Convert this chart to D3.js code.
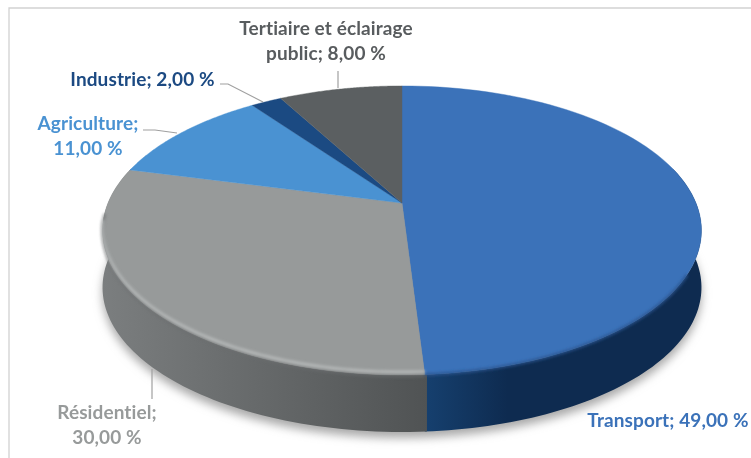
<!DOCTYPE html>
<html><head><meta charset="utf-8">
<script src="https://cdn.jsdelivr.net/npm/d3@7/dist/d3.min.js"></script>
<style>html,body{margin:0;padding:0;background:#fff;overflow:hidden}svg{display:block}text{font-family:Lato,"Open Sans",sans-serif;font-weight:700;font-size:19px;letter-spacing:.1px}</style>
</head><body><svg id="c" width="751" height="458"></svg>
<script>
const categories=["Transport","Résidentiel","Agriculture","Industrie","Tertiaire et éclairage public"];
const values=[49,30,11,2,8];
const topColors=["#3b72b9","#979a9a","#4a92d2","#1b4a82","#5b5f61"];
const wallNear=["#16406f","#505354","#2f6da8","#123660","#3f4244"];
const wallFar=["#0e2b50","#7b7e7f","#2f6da8","#123660","#3f4244"];
const textColors=["#3b72b9","#979a9a","#4a92d2","#1b4a82","#595c5e"];
const labelLines=[["Transport; 49,00 %"],["Résidentiel;","30,00 %"],["Agriculture;","11,00 %"],["Industrie; 2,00 %"],["Tertiaire et éclairage","public; 8,00 %"]];
const labelPos=[[668,427],[107,419],[88,130],[142.5,86],[326,35]];
const leaders=[[],[[152,369],[152,399]],[[143,130],[155,130],[177,133]],[[220,84],[228,84],[263,102]],[[338,71],[338,88]]];

const cx=402,cy=203,B=294,A=139.3,C=-0.19,depth=57;
const svg=d3.select("#c");
const defs=svg.append("defs");
const blur=(id,s)=>defs.append("filter").attr("id",id).attr("x","-20%").attr("y","-20%").attr("width","140%").attr("height","140%").append("feGaussianBlur").attr("stdDeviation",s);
blur("shadow",5);blur("rim",1.5);blur("soft",0.4);

const project=(a,dy=0)=>{const u=Math.sin(a),v=-Math.cos(a),d=1+C*v;return [cx+B*u/d,cy+A*v/d+dy];};
const arcs=d3.pie().sort(null).value(d=>d)(values);
const line=d3.line();
const outline=(a0,a1,dy=0)=>d3.range(0,81).map(i=>project(a0+(a1-a0)*i/80,dy));
const deg=d=>d*Math.PI/180;

// frame: only top and left edges are visible
svg.append("path").attr("d",line([[9,458],[9,8],[751,8]])).attr("fill","none").attr("stroke","#d2d2d2").attr("stroke-width",1.3);

// soft drop shadow under the disc
svg.append("path").attr("d",line(outline(deg(60),deg(300),depth+6))+"Z").attr("fill","#a8a8a8").attr("filter","url(#shadow)");

// walls, drawn in order so that each one overlaps the seam of the previous one
arcs.forEach((s,i)=>{
  const a0=Math.max(s.startAngle-0.006,deg(75)),a1=Math.min(s.endAngle,deg(285));
  if(a1<=a0)return;
  const top=outline(a0,a1),bot=outline(a0,a1,depth).reverse();
  const xs=top.map(p=>p[0]);
  const id="w"+i;
  const g=defs.append("linearGradient").attr("id",id).attr("gradientUnits","userSpaceOnUse")
    .attr("x1",d3.min(xs)).attr("x2",d3.max(xs)).attr("y1",0).attr("y2",0);
  if(i==0){
    [[0,wallNear[0]],[0.3,wallFar[0]],[1,wallFar[0]]].forEach(c=>g.append("stop").attr("offset",c[0]).attr("stop-color",c[1]));
  }else{
    [[0,wallFar[i]],[1,wallNear[i]]].forEach(c=>g.append("stop").attr("offset",c[0]).attr("stop-color",c[1]));
  }
  svg.append("path").attr("d",line(top.concat(bot))+"Z").attr("fill","url(#"+id+")");
});

// top face
arcs.forEach((s,i)=>{
  svg.append("path").attr("d",line([[cx,cy]].concat(outline(s.startAngle,s.endAngle)))+"Z").attr("fill",topColors[i]).attr("stroke",topColors[i]).attr("stroke-width",0.4);
});
// bevel along the near rim only
svg.append("path").attr("d",line(outline(deg(118),arcs[0].endAngle,0))).attr("fill","none").attr("stroke","#2a5590").attr("stroke-width",2.5).attr("filter","url(#rim)");
svg.append("path").attr("d",line(outline(arcs[1].startAngle,deg(266),1))).attr("fill","none").attr("stroke","#6a6d6e").attr("stroke-width",2.5).attr("filter","url(#rim)").attr("opacity",.7);
svg.append("path").attr("d",line(outline(arcs[1].startAngle,deg(262),-3))).attr("fill","none").attr("stroke","#bec1c1").attr("stroke-width",2.2).attr("filter","url(#rim)");

// leaders
leaders.forEach(l=>{if(l.length)svg.append("path").attr("d",line(l)).attr("fill","none").attr("stroke","#a0a0a0").attr("stroke-width",1.2);});

// labels
labelLines.forEach((ls,i)=>{
  ls.forEach((t,j)=>{
    svg.append("text").attr("x",labelPos[i][0]).attr("y",labelPos[i][1]+j*25).attr("text-anchor","middle")
      .attr("fill",textColors[i]).attr("filter","url(#soft)").text(t);
  });
});
</script></body></html>
